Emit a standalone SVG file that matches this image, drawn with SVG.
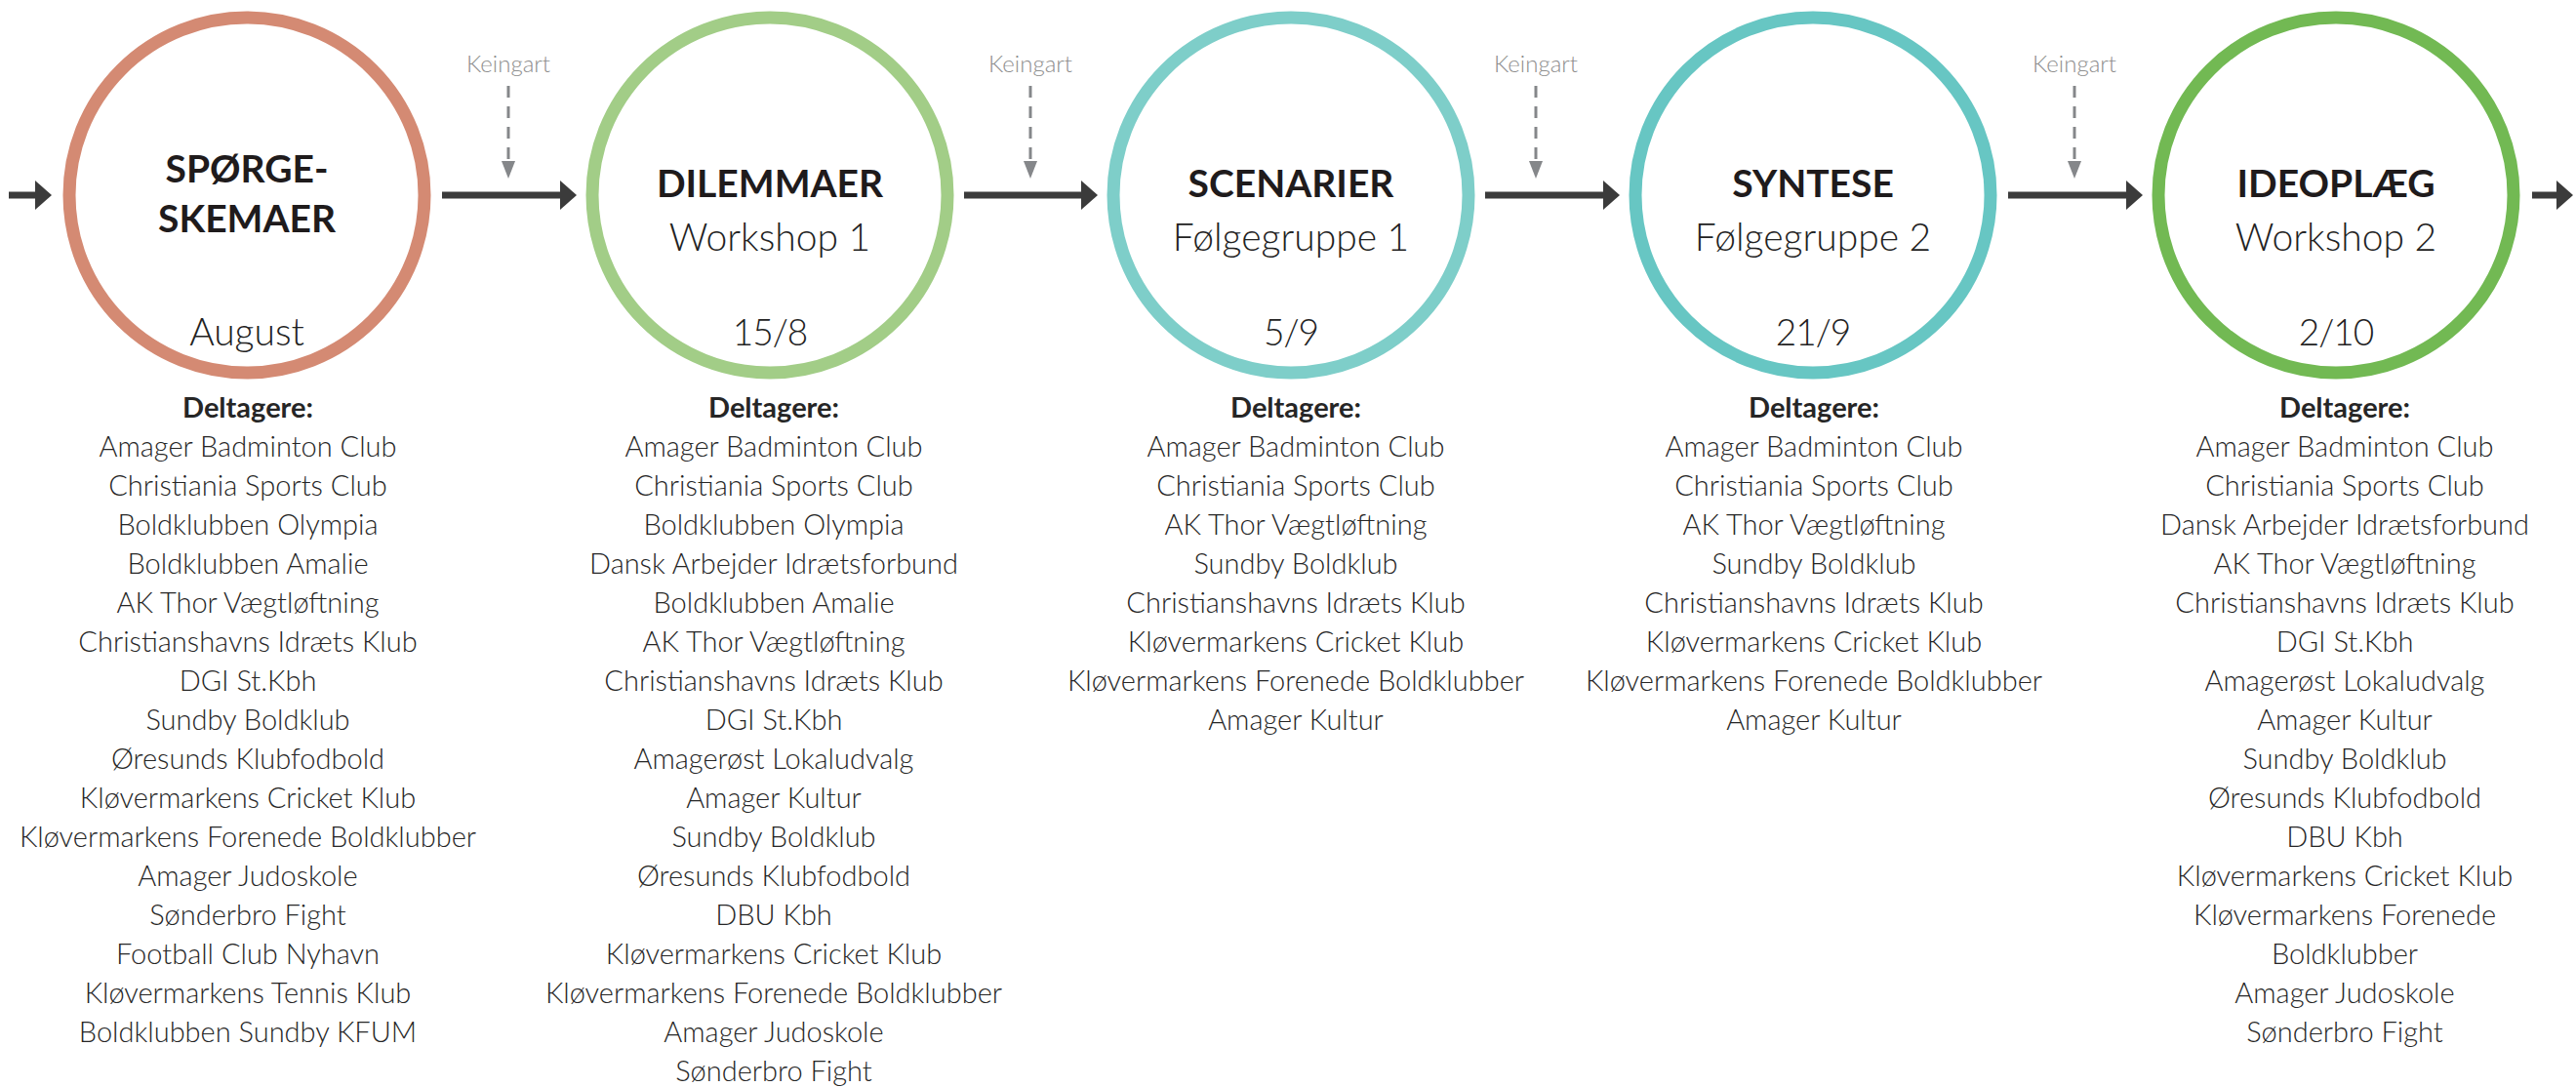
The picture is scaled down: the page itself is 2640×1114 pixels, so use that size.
<svg xmlns="http://www.w3.org/2000/svg" width="2640" height="1114" viewBox="0 0 2640 1114">
<defs>
<marker id="ah" viewBox="0 0 17 30" refX="1" refY="15" markerWidth="17" markerHeight="30" markerUnits="userSpaceOnUse" orient="auto"><path d="M0,0 L17,15 L0,30 z" fill="#3b3b3b"/></marker>
<marker id="dh" viewBox="0 0 14 18" refX="7" refY="1" markerWidth="14" markerHeight="18" markerUnits="userSpaceOnUse" orient="0"><path d="M0,0 L14,0 L7,18 z" fill="#85878a"/></marker>
<style>
.ring{fill:#fff;stroke-width:13}
.t{font-family:Lato,"Liberation Sans",sans-serif;font-weight:700;font-size:39px;fill:#1f1b1c;text-anchor:middle}
.s{font-family:Lato,"Liberation Sans",sans-serif;font-weight:300;font-size:39px;fill:#222;text-anchor:middle}
.d{font-family:Lato,"Liberation Sans",sans-serif;font-weight:300;font-size:37px;letter-spacing:-1px;fill:#222;text-anchor:middle}
.h{font-family:Lato,"Liberation Sans",sans-serif;font-weight:700;font-size:29px;fill:#262626;text-anchor:middle}
.l{font-family:Lato,"Liberation Sans",sans-serif;font-weight:300;font-size:29px;fill:#262626;text-anchor:middle}
.k{font-family:Lato,"Liberation Sans",sans-serif;font-weight:300;font-size:24px;fill:#8e8e8e;text-anchor:middle}
.main{stroke:#3b3b3b;stroke-width:7;fill:none;marker-end:url(#ah)}
.dash{stroke:#85878a;stroke-width:3;stroke-dasharray:12 9;fill:none;marker-end:url(#dh)}
</style>
</defs>
<rect width="2640" height="1114" fill="#fff"/>
<g id="connectors">
<line class="main" x1="9" y1="200" x2="37" y2="200"/>
<line class="main" x1="453" y1="200" x2="575" y2="200"/>
<line class="main" x1="988" y1="200" x2="1109" y2="200"/>
<line class="main" x1="1522" y1="200" x2="1644" y2="200"/>
<line class="main" x1="2058" y1="200" x2="2180" y2="200"/>
<line class="main" x1="2595" y1="200" x2="2621" y2="200"/>
<text class="k" x="521" y="74">Keingart</text>
<line class="dash" x1="521" y1="88" x2="521" y2="166"/>
<text class="k" x="1056" y="74">Keingart</text>
<line class="dash" x1="1056" y1="88" x2="1056" y2="166"/>
<text class="k" x="1574" y="74">Keingart</text>
<line class="dash" x1="1574" y1="88" x2="1574" y2="166"/>
<text class="k" x="2126" y="74">Keingart</text>
<line class="dash" x1="2126" y1="88" x2="2126" y2="166"/>
</g>
<g id="node1">
<circle class="ring" cx="253" cy="200" r="182" stroke="#d48a73"/>
<text class="t" x="253" y="187">SPØRGE-</text>
<text class="t" x="253" y="238">SKEMAER</text>
<text class="s" x="253" y="354">August</text>
<text class="h" x="254" y="428">Deltagere:</text>
<text class="l" x="254" y="468">Amager Badminton Club</text>
<text class="l" x="254" y="508">Christiania Sports Club</text>
<text class="l" x="254" y="548">Boldklubben Olympia</text>
<text class="l" x="254" y="588">Boldklubben Amalie</text>
<text class="l" x="254" y="628">AK Thor Vægtløftning</text>
<text class="l" x="254" y="668">Christianshavns Idræts Klub</text>
<text class="l" x="254" y="708">DGI St.Kbh</text>
<text class="l" x="254" y="748">Sundby Boldklub</text>
<text class="l" x="254" y="788">Øresunds Klubfodbold</text>
<text class="l" x="254" y="828">Kløvermarkens Cricket Klub</text>
<text class="l" x="254" y="868">Kløvermarkens Forenede Boldklubber</text>
<text class="l" x="254" y="908">Amager Judoskole</text>
<text class="l" x="254" y="948">Sønderbro Fight</text>
<text class="l" x="254" y="988">Football Club Nyhavn</text>
<text class="l" x="254" y="1028">Kløvermarkens Tennis Klub</text>
<text class="l" x="254" y="1068">Boldklubben Sundby KFUM</text>
</g>
<g id="node2">
<circle class="ring" cx="789" cy="200" r="182" stroke="#a2cd87"/>
<text class="t" x="789" y="202">DILEMMAER</text>
<text class="s" x="789" y="257">Workshop 1</text>
<text class="d" x="789" y="354">15/8</text>
<text class="h" x="793" y="428">Deltagere:</text>
<text class="l" x="793" y="468">Amager Badminton Club</text>
<text class="l" x="793" y="508">Christiania Sports Club</text>
<text class="l" x="793" y="548">Boldklubben Olympia</text>
<text class="l" x="793" y="588">Dansk Arbejder Idrætsforbund</text>
<text class="l" x="793" y="628">Boldklubben Amalie</text>
<text class="l" x="793" y="668">AK Thor Vægtløftning</text>
<text class="l" x="793" y="708">Christianshavns Idræts Klub</text>
<text class="l" x="793" y="748">DGI St.Kbh</text>
<text class="l" x="793" y="788">Amagerøst Lokaludvalg</text>
<text class="l" x="793" y="828">Amager Kultur</text>
<text class="l" x="793" y="868">Sundby Boldklub</text>
<text class="l" x="793" y="908">Øresunds Klubfodbold</text>
<text class="l" x="793" y="948">DBU Kbh</text>
<text class="l" x="793" y="988">Kløvermarkens Cricket Klub</text>
<text class="l" x="793" y="1028">Kløvermarkens Forenede Boldklubber</text>
<text class="l" x="793" y="1068">Amager Judoskole</text>
<text class="l" x="793" y="1108">Sønderbro Fight</text>
</g>
<g id="node3">
<circle class="ring" cx="1323" cy="200" r="182" stroke="#7ecec9"/>
<text class="t" x="1323" y="202">SCENARIER</text>
<text class="s" x="1323" y="257">Følgegruppe 1</text>
<text class="d" x="1323" y="354">5/9</text>
<text class="h" x="1328" y="428">Deltagere:</text>
<text class="l" x="1328" y="468">Amager Badminton Club</text>
<text class="l" x="1328" y="508">Christiania Sports Club</text>
<text class="l" x="1328" y="548">AK Thor Vægtløftning</text>
<text class="l" x="1328" y="588">Sundby Boldklub</text>
<text class="l" x="1328" y="628">Christianshavns Idræts Klub</text>
<text class="l" x="1328" y="668">Kløvermarkens Cricket Klub</text>
<text class="l" x="1328" y="708">Kløvermarkens Forenede Boldklubber</text>
<text class="l" x="1328" y="748">Amager Kultur</text>
</g>
<g id="node4">
<circle class="ring" cx="1858" cy="200" r="182" stroke="#67c6c3"/>
<text class="t" x="1858" y="202">SYNTESE</text>
<text class="s" x="1858" y="257">Følgegruppe 2</text>
<text class="d" x="1858" y="354">21/9</text>
<text class="h" x="1859" y="428">Deltagere:</text>
<text class="l" x="1859" y="468">Amager Badminton Club</text>
<text class="l" x="1859" y="508">Christiania Sports Club</text>
<text class="l" x="1859" y="548">AK Thor Vægtløftning</text>
<text class="l" x="1859" y="588">Sundby Boldklub</text>
<text class="l" x="1859" y="628">Christianshavns Idræts Klub</text>
<text class="l" x="1859" y="668">Kløvermarkens Cricket Klub</text>
<text class="l" x="1859" y="708">Kløvermarkens Forenede Boldklubber</text>
<text class="l" x="1859" y="748">Amager Kultur</text>
</g>
<g id="node5">
<circle class="ring" cx="2394" cy="200" r="182" stroke="#72b953"/>
<text class="t" x="2394" y="202">IDEOPLÆG</text>
<text class="s" x="2394" y="257">Workshop 2</text>
<text class="d" x="2394" y="354">2/10</text>
<text class="h" x="2403" y="428">Deltagere:</text>
<text class="l" x="2403" y="468">Amager Badminton Club</text>
<text class="l" x="2403" y="508">Christiania Sports Club</text>
<text class="l" x="2403" y="548">Dansk Arbejder Idrætsforbund</text>
<text class="l" x="2403" y="588">AK Thor Vægtløftning</text>
<text class="l" x="2403" y="628">Christianshavns Idræts Klub</text>
<text class="l" x="2403" y="668">DGI St.Kbh</text>
<text class="l" x="2403" y="708">Amagerøst Lokaludvalg</text>
<text class="l" x="2403" y="748">Amager Kultur</text>
<text class="l" x="2403" y="788">Sundby Boldklub</text>
<text class="l" x="2403" y="828">Øresunds Klubfodbold</text>
<text class="l" x="2403" y="868">DBU Kbh</text>
<text class="l" x="2403" y="908">Kløvermarkens Cricket Klub</text>
<text class="l" x="2403" y="948">Kløvermarkens Forenede</text>
<text class="l" x="2403" y="988">Boldklubber</text>
<text class="l" x="2403" y="1028">Amager Judoskole</text>
<text class="l" x="2403" y="1068">Sønderbro Fight</text>
</g>
</svg>
